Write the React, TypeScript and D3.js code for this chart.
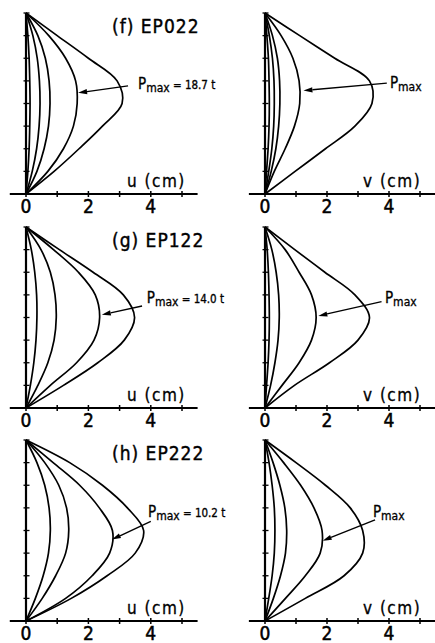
import React from "react";
import * as d3 from "d3";

const W = 435;
const H = 643;

// storey levels, bottom (0) to top (8)
const levels = [0, 1, 2, 3, 4, 5, 6, 7, 8];
const xTicks = [0, 1, 2, 3, 4, 5];
const xTickLabels = [0, 2, 4];
const yTicks = [1, 2, 3, 4, 5, 6, 7, 8];

// (f) EP022 - displacement profiles at each load step (cm)
const ep022U = [
  [0, 0.06, 0.1, 0.12, 0.13, 0.12, 0.1, 0.06, 0],
  [0, 0.2, 0.34, 0.42, 0.45, 0.43, 0.36, 0.22, 0],
  [0, 0.35, 0.58, 0.72, 0.77, 0.74, 0.62, 0.38, 0],
  [0, 0.7, 1.2, 1.52, 1.64, 1.59, 1.27, 0.73, 0],
  [0, 0.9, 1.7, 2.45, 3.08, 2.92, 2.0, 1.0, 0],
];
const ep022V = [
  [0, 0.05, 0.1, 0.13, 0.14, 0.13, 0.11, 0.06, 0],
  [0, 0.12, 0.22, 0.28, 0.3, 0.29, 0.24, 0.14, 0],
  [0, 0.2, 0.35, 0.44, 0.48, 0.47, 0.4, 0.24, 0],
  [0, 0.3, 0.65, 0.95, 1.12, 1.1, 0.9, 0.52, 0],
  [0, 0.97, 1.95, 2.9, 3.45, 3.37, 2.25, 1.12, 0],
];

// (g) EP122
const ep122U = [
  [0, 0.14, 0.25, 0.32, 0.35, 0.34, 0.28, 0.17, 0],
  [0, 0.38, 0.7, 0.9, 0.97, 0.93, 0.78, 0.48, 0],
  [0, 0.78, 1.62, 2.18, 2.36, 2.22, 1.68, 0.88, 0],
  [0, 1.2, 2.3, 3.15, 3.48, 3.12, 2.15, 1.07, 0],
];
const ep122V = [
  [0, 0.05, 0.1, 0.13, 0.14, 0.13, 0.11, 0.07, 0],
  [0, 0.18, 0.32, 0.42, 0.46, 0.44, 0.36, 0.22, 0],
  [0, 0.55, 1.1, 1.5, 1.65, 1.5, 1.1, 0.65, 0],
  [0, 0.95, 2.08, 3.0, 3.37, 2.9, 1.93, 0.96, 0],
];

// (h) EP222
const ep222U = [
  [0, 0.3, 0.55, 0.72, 0.78, 0.74, 0.6, 0.35, 0],
  [0, 0.52, 0.95, 1.27, 1.37, 1.3, 1.05, 0.6, 0],
  [0, 1.27, 2.12, 2.68, 2.77, 2.35, 1.72, 0.87, 0],
  [0, 1.45, 2.6, 3.5, 3.77, 3.25, 2.45, 1.4, 0],
];
const ep222V = [
  [0, 0.12, 0.23, 0.3, 0.32, 0.3, 0.23, 0.13, 0],
  [0, 0.27, 0.5, 0.66, 0.7, 0.64, 0.48, 0.26, 0],
  [0, 0.66, 1.3, 1.78, 1.84, 1.58, 1.15, 0.6, 0],
  [0, 1.3, 2.55, 3.15, 3.15, 2.75, 1.95, 1.0, 0],
];

const titles = ["(f) EP022", "(g) EP122", "(h) EP222"];
const loads = ["18.7", "14.0", "10.2"];

// Pmax notes: [labelU, labelLevel, fromU, fromLevel, toU, toLevel]
const ep022UNote = [3.59, 4.65, 3.27, 4.78, 1.67, 4.47];
const ep022VNote = [4.03, 4.69, 3.93, 4.9, 1.24, 4.57];
const ep122UNote = [3.87, 4.63, 3.72, 4.51, 2.43, 4.12];
const ep122VNote = [3.87, 4.63, 3.76, 4.7, 1.72, 4.07];
const ep222UNote = [3.91, 4.61, 4.0, 4.4, 2.75, 3.6];
const ep222VNote = [3.48, 4.61, 3.55, 4.47, 1.86, 3.55];

const rows = [
  { u: ep022U, v: ep022V, uNote: ep022UNote, vNote: ep022VNote },
  { u: ep122U, v: ep122V, uNote: ep122UNote, vNote: ep122VNote },
  { u: ep222U, v: ep222V, uNote: ep222UNote, vNote: ep222VNote },
];

// layout
const rowTop = [13, 227, 440];
const rowBottom = [194, 408, 621];
const colX = [
  [26, 182],
  [265, 420],
];
const FONT = "'DejaVu Sans Condensed', 'DejaVu Sans', sans-serif";

function Panel(props: {
  curves: number[][];
  note: number[];
  load: string | null;
  title: string | null;
  axisName: string;
  col: number;
  row: number;
}) {
  const { curves, note, load, title, axisName, col, row } = props;
  const x = d3.scaleLinear().domain([0, 5]).range(colX[col]);
  const y = d3.scaleLinear().domain([0, 8]).range([rowBottom[row], rowTop[row]]);
  const line = d3
    .line<number>()
    .x((d) => x(d))
    .y((_, i) => y(levels[i]))
    .curve(d3.curveCatmullRom.alpha(0.5));

  const x0 = x(0);
  const yb = y(0);
  const [lu, ll, fu, fl, tu, tl] = note;
  const ax1 = x(fu), ay1 = y(fl), ax2 = x(tu), ay2 = y(tl);
  const ang = Math.atan2(ay2 - ay1, ax2 - ax1);
  const hl = 9, hw = 2.6;
  const bx = ax2 - hl * Math.cos(ang), by = ay2 - hl * Math.sin(ang);
  const head = [
    [ax2, ay2],
    [bx + hw * Math.sin(ang), by - hw * Math.cos(ang)],
    [bx - hw * Math.sin(ang), by + hw * Math.cos(ang)],
  ]
    .map((p) => p.join(","))
    .join(" ");

  return (
    <g>
      {/* x axis */}
      <line x1={x(-0.52)} x2={Math.min(x(5.5), W)} y1={yb} y2={yb} stroke="#000" strokeWidth={1.8} />
      {xTicks.map((t) => (
        <line key={t} x1={x(t)} x2={x(t)} y1={yb - 3} y2={yb + 3} stroke="#000" strokeWidth={1.5} />
      ))}
      {xTickLabels.map((t) => (
        <text key={t} x={x(t)} y={yb + 19} fontSize={19} textAnchor="middle" fontFamily={FONT}
          stroke="#000" strokeWidth={0.5}>
          {t}
        </text>
      ))}
      {/* y axis */}
      <line x1={x0} x2={x0} y1={y(0)} y2={y(8)} stroke="#000" strokeWidth={2.2} />
      {yTicks.map((t) => (
        <line key={t} x1={x0 - 2.5} x2={x0 + 3.5} y1={y(t)} y2={y(t)} stroke="#000" strokeWidth={1.3} />
      ))}
      {/* profiles */}
      {curves.map((c, i) => (
        <path key={i} d={line(c) ?? ""} fill="none" stroke="#000" strokeWidth={1.7} />
      ))}
      {/* Pmax arrow */}
      <line x1={ax1} y1={ay1} x2={bx} y2={by} stroke="#000" strokeWidth={1.4} />
      <polygon points={head} fill="#000" />
      <text x={x(lu)} y={y(ll)} fontFamily={FONT} fontSize={15} stroke="#000" strokeWidth={0.3}>
        P
        <tspan fontSize={12} dy={3}>max</tspan>
        {load ? (
          <tspan fontSize={11.5} dy={-3}>
            {" = " + load + " t"}
          </tspan>
        ) : null}
      </text>
      {title ? (
        <text x={x0 + 86} y={rowTop[row] + 20} fontFamily={FONT} fontSize={19} letterSpacing={1}
          stroke="#000" strokeWidth={0.4}>
          {title}
        </text>
      ) : null}
      <text x={x0 + (col === 0 ? 101 : 98)} y={yb - 7} fontFamily={FONT} fontSize={17} letterSpacing={1.5}
        stroke="#000" strokeWidth={0.3}>
        {axisName}
      </text>
    </g>
  );
}

export default function App() {
  return (
    <svg
      width={W}
      height={H}
      viewBox={`0 0 ${W} ${H}`}
      style={{ position: "absolute", left: 0, top: 0, background: "#fff" }}
    >
      <rect width={W} height={H} fill="#fff" />
      {rows.map((r, i) => (
        <g key={i}>
          <Panel curves={r.u} note={r.uNote} load={loads[i]} title={titles[i]} axisName="u (cm)" col={0} row={i} />
          <Panel curves={r.v} note={r.vNote} load={null} title={null} axisName="v (cm)" col={1} row={i} />
        </g>
      ))}
    </svg>
  );
}
